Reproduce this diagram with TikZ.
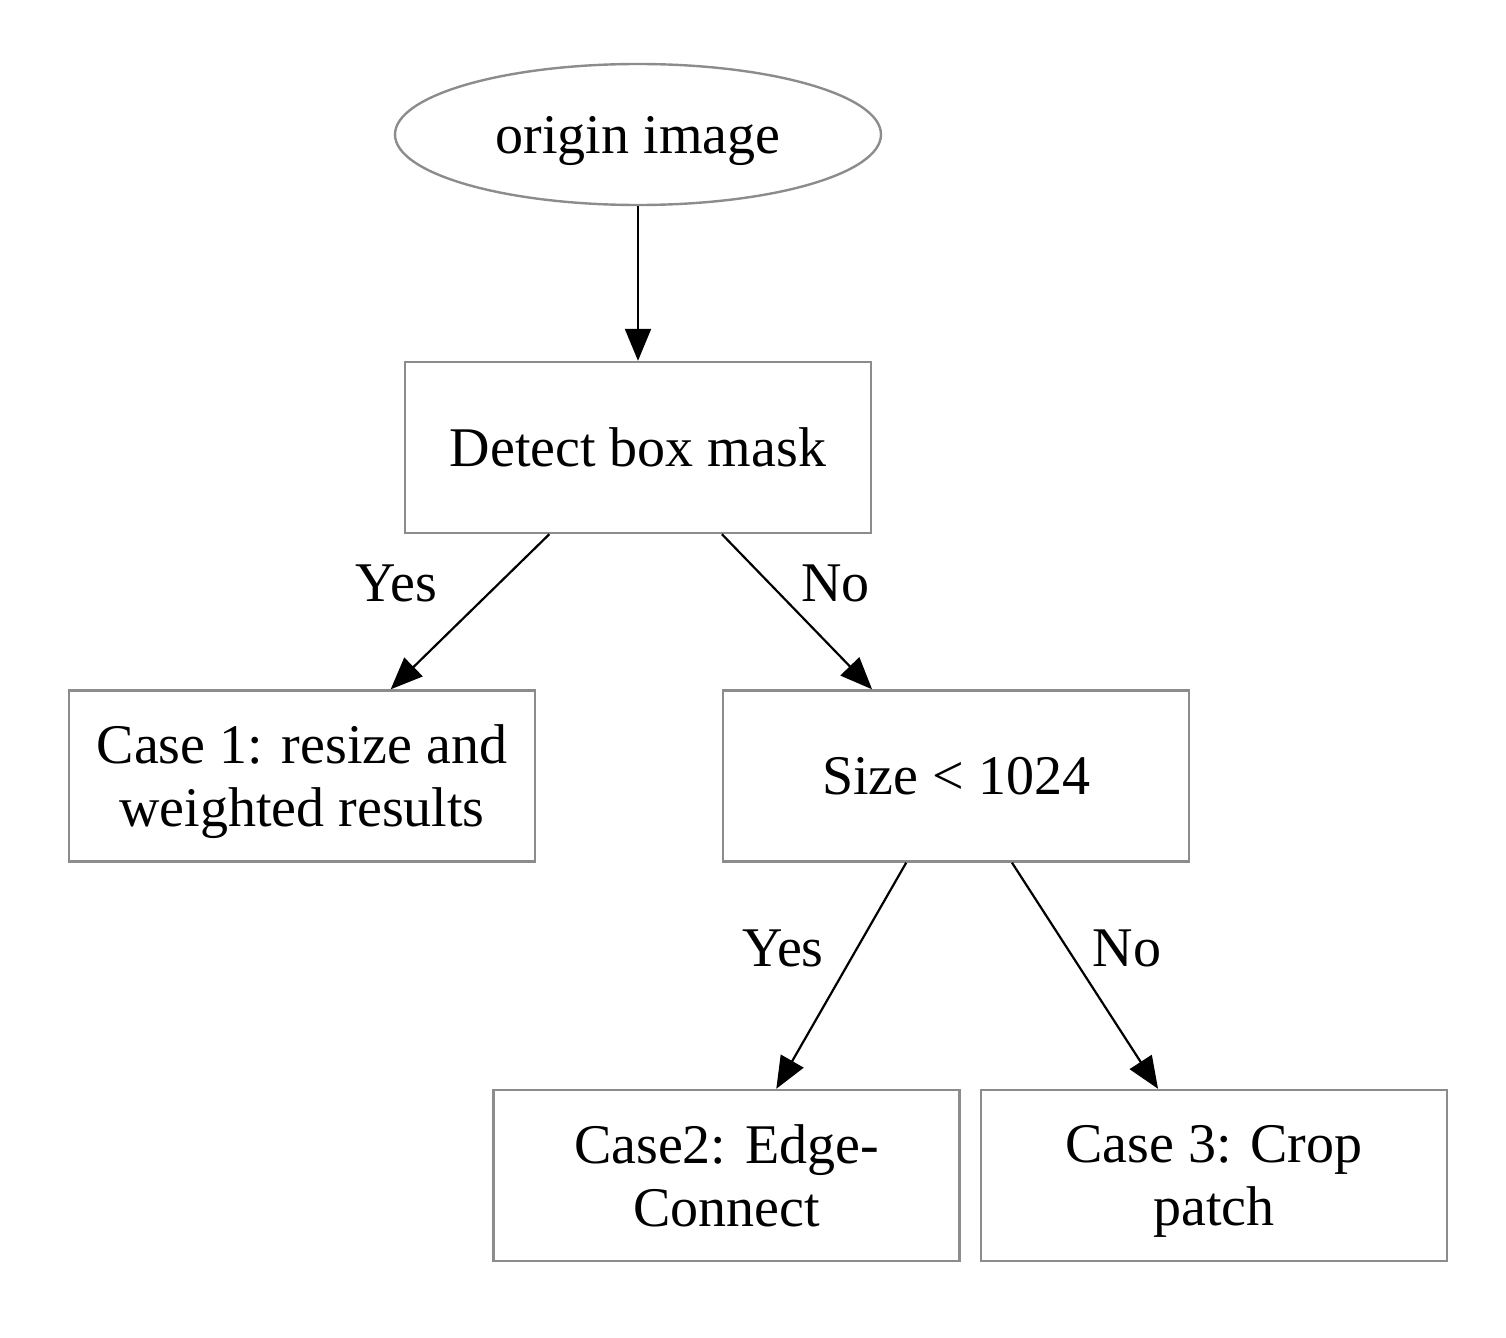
\documentclass[tikz,border=0pt]{standalone}
\usepackage{fontspec}
\setmainfont{Liberation Serif}
\usetikzlibrary{shapes.geometric,arrows.meta}

\tikzset{
  stepbox/.style={draw=black!45, line width=1.2pt, rectangle, minimum width=233pt,
    minimum height=85.5pt, inner sep=0pt, align=center, text depth=0pt,
    font=\fontsize{28}{31.5}\selectfont},
  startnode/.style={draw=black!45, line width=1.2pt, ellipse, minimum width=243pt,
    minimum height=70.5pt, inner sep=0pt, text depth=0pt,
    font=\fontsize{28}{31.5}\selectfont},
  flow/.style={-{Triangle[length=16pt,width=13pt]}, line width=1.1pt, black},
  lbl/.style={font=\fontsize{28}{31.5}\selectfont, inner sep=0pt},
}

\begin{document}
\begin{tikzpicture}[x=0.5pt, y=-0.5pt]
    \useasboundingbox (0,0) rectangle (1506,1338);

    % Nodes
    \node[startnode] (origin) at (638,134.5) {origin image};
    \node[stepbox] (detect) at (638,447.5) {Detect box mask};
    \node[stepbox] (case1) at (302,776) {Case 1: resize and\\weighted results};
    \node[stepbox] (size) at (956,776) {Size < 1024};
    \node[stepbox] (case2) at (726.5,1175.5) {Case2: Edge-\\Connect};
    \node[stepbox] (case3) at (1214,1175.5) {Case 3: Crop\\patch};

    % Edges
    \draw[flow] (origin) -- (detect);
    \draw[flow] (detect) -- node[lbl, pos=0.32, left=30pt] {Yes} (case1);
    \draw[flow] (detect) -- node[lbl, pos=0.32, right=15pt] {No} (size);
    \draw[flow] (size) -- node[lbl, pos=0.38, left=16pt] {Yes} (case2);
    \draw[flow] (size) -- node[lbl, pos=0.38, right=12pt] {No} (case3);
\end{tikzpicture}
\end{document}
